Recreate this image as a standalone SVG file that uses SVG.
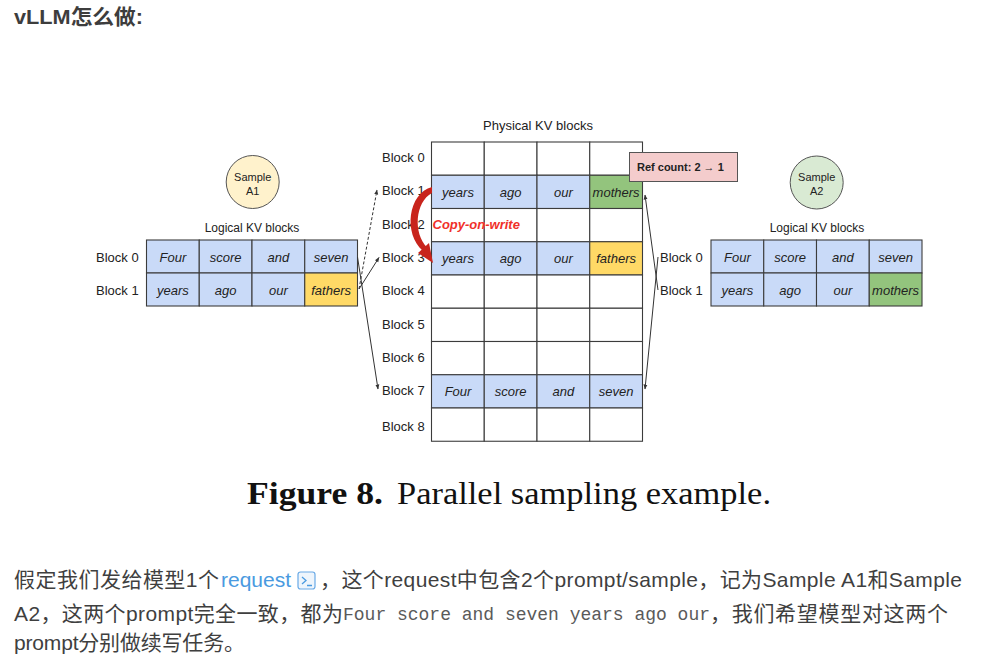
<svg xmlns="http://www.w3.org/2000/svg" width="996" height="666" viewBox="0 0 996 666">
<style>
.lbl{font-family:"Liberation Sans",Arial,sans-serif;font-size:13px;fill:#222}
.ttl{font-family:"Liberation Sans",Arial,sans-serif;font-size:12px;fill:#222;text-anchor:middle}
.cell{font-family:"Liberation Sans",Arial,sans-serif;font-size:13px;font-style:italic;fill:#222;text-anchor:middle}
.grid rect{stroke:#3c3c3c;stroke-width:1.1}
.b{fill:#c9daf8}.y{fill:#ffd966}.g{fill:#93c47d}.w{fill:#ffffff}
.conn{stroke:#333;stroke-width:1;fill:none;marker-end:url(#ah)}
.para{font-family:"Liberation Sans","Noto Sans CJK SC",sans-serif;font-size:21px;fill:#3f3f3f}
.mono{font-family:"Liberation Mono",monospace;font-size:18px;fill:#5a5a5a}
</style>
<defs>
<marker id="ah" viewBox="0 0 10 10" refX="9" refY="5" markerWidth="5" markerHeight="5" orient="auto-start-reverse" markerUnits="strokeWidth">
<path d="M0,1 L10,5 L0,9 z" fill="#333"/>
</marker>
</defs>
<rect width="996" height="666" fill="#ffffff"/>
<text x="14" y="24" font-family="Liberation Sans,'Noto Sans CJK SC',sans-serif" font-size="21" font-weight="bold" fill="#3d3d3d" textLength="129" lengthAdjust="spacingAndGlyphs">vLLM怎么做:</text>

<!-- Physical KV blocks -->
<g id="physical">
<text x="538" y="130" class="ttl" style="font-size:13px">Physical KV blocks</text>
<g class="grid">
<rect x="431.5" y="142" width="52.75" height="33.25" class="w"/><rect x="484.25" y="142" width="52.75" height="33.25" class="w"/><rect x="537" y="142" width="52.75" height="33.25" class="w"/><rect x="589.75" y="142" width="52.75" height="33.25" class="w"/>
<rect x="431.5" y="175.25" width="52.75" height="33.25" class="b"/><rect x="484.25" y="175.25" width="52.75" height="33.25" class="b"/><rect x="537" y="175.25" width="52.75" height="33.25" class="b"/><rect x="589.75" y="175.25" width="52.75" height="33.25" class="g"/>
<rect x="431.5" y="208.5" width="52.75" height="33.25" class="w"/><rect x="484.25" y="208.5" width="52.75" height="33.25" class="w"/><rect x="537" y="208.5" width="52.75" height="33.25" class="w"/><rect x="589.75" y="208.5" width="52.75" height="33.25" class="w"/>
<rect x="431.5" y="241.75" width="52.75" height="33.25" class="b"/><rect x="484.25" y="241.75" width="52.75" height="33.25" class="b"/><rect x="537" y="241.75" width="52.75" height="33.25" class="b"/><rect x="589.75" y="241.75" width="52.75" height="33.25" class="y"/>
<rect x="431.5" y="275" width="52.75" height="33.25" class="w"/><rect x="484.25" y="275" width="52.75" height="33.25" class="w"/><rect x="537" y="275" width="52.75" height="33.25" class="w"/><rect x="589.75" y="275" width="52.75" height="33.25" class="w"/>
<rect x="431.5" y="308.25" width="52.75" height="33.25" class="w"/><rect x="484.25" y="308.25" width="52.75" height="33.25" class="w"/><rect x="537" y="308.25" width="52.75" height="33.25" class="w"/><rect x="589.75" y="308.25" width="52.75" height="33.25" class="w"/>
<rect x="431.5" y="341.5" width="52.75" height="33.25" class="w"/><rect x="484.25" y="341.5" width="52.75" height="33.25" class="w"/><rect x="537" y="341.5" width="52.75" height="33.25" class="w"/><rect x="589.75" y="341.5" width="52.75" height="33.25" class="w"/>
<rect x="431.5" y="374.75" width="52.75" height="33.25" class="b"/><rect x="484.25" y="374.75" width="52.75" height="33.25" class="b"/><rect x="537" y="374.75" width="52.75" height="33.25" class="b"/><rect x="589.75" y="374.75" width="52.75" height="33.25" class="b"/>
<rect x="431.5" y="408" width="52.75" height="33.25" class="w"/><rect x="484.25" y="408" width="52.75" height="33.25" class="w"/><rect x="537" y="408" width="52.75" height="33.25" class="w"/><rect x="589.75" y="408" width="52.75" height="33.25" class="w"/>
</g>
<text class="lbl" x="382" y="162">Block 0</text>
<text class="lbl" x="382" y="195">Block 1</text>
<text class="lbl" x="382" y="229">Block 2</text>
<text class="lbl" x="382" y="262">Block 3</text>
<text class="lbl" x="382" y="295">Block 4</text>
<text class="lbl" x="382" y="329">Block 5</text>
<text class="lbl" x="382" y="362">Block 6</text>
<text class="lbl" x="382" y="395">Block 7</text>
<text class="lbl" x="382" y="431">Block 8</text>
<text class="cell" x="458" y="196.5">years</text><text class="cell" x="510.6" y="196.5">ago</text><text class="cell" x="563.4" y="196.5">our</text><text class="cell" x="616.1" y="196.5">mothers</text>
<text class="cell" x="458" y="263">years</text><text class="cell" x="510.6" y="263">ago</text><text class="cell" x="563.4" y="263">our</text><text class="cell" x="616.1" y="263">fathers</text>
<text class="cell" x="458" y="396">Four</text><text class="cell" x="510.6" y="396">score</text><text class="cell" x="563.4" y="396">and</text><text class="cell" x="616.1" y="396">seven</text>
</g>

<g id="refcount">
<rect x="629.5" y="152.5" width="108" height="29" fill="#f4cccc" stroke="#555" stroke-width="1"/>
<text x="637" y="170.5" font-family="Liberation Sans,Arial,sans-serif" font-size="11" font-weight="bold" fill="#222">Ref count: 2 → 1</text>
</g>

<g id="copy-on-write">
<path d="M432,187 C408,193 403,234 423,251 L427,247.5 C413,233 415,202 432,193 Z" fill="#c8241c"/>
<polygon points="418,253 429,243 433,263" fill="#c8241c"/>
<text x="432.5" y="228.5" font-family="Liberation Sans,Arial,sans-serif" font-size="13" font-weight="bold" font-style="italic" fill="#f0302a">Copy-on-write</text>
</g>

<!-- Sample A1 -->
<g id="sampleA1">
<circle cx="252.7" cy="182" r="26.5" fill="#fff2cc" stroke="#555" stroke-width="1"/>
<text x="252.7" y="181" class="ttl" style="font-size:11px">Sample</text>
<text x="252.7" y="194.5" class="ttl" style="font-size:11px">A1</text>
</g>
<g id="logicalA1">
<text x="252" y="231.5" class="ttl">Logical KV blocks</text>
<g class="grid">
<rect x="146.5" y="240" width="52.75" height="33" class="b"/><rect x="199.25" y="240" width="52.75" height="33" class="b"/><rect x="252" y="240" width="52.75" height="33" class="b"/><rect x="304.75" y="240" width="52.75" height="33" class="b"/>
<rect x="146.5" y="273" width="52.75" height="33" class="b"/><rect x="199.25" y="273" width="52.75" height="33" class="b"/><rect x="252" y="273" width="52.75" height="33" class="b"/><rect x="304.75" y="273" width="52.75" height="33" class="y"/>
</g>
<text class="lbl" x="96" y="262">Block 0</text>
<text class="lbl" x="96" y="295">Block 1</text>
<text class="cell" x="172.9" y="261.5">Four</text><text class="cell" x="225.6" y="261.5">score</text><text class="cell" x="278.4" y="261.5">and</text><text class="cell" x="331.1" y="261.5">seven</text>
<text class="cell" x="172.9" y="294.5">years</text><text class="cell" x="225.6" y="294.5">ago</text><text class="cell" x="278.4" y="294.5">our</text><text class="cell" x="331.1" y="294.5">fathers</text>
</g>

<!-- Sample A2 -->
<g id="sampleA2">
<circle cx="816.7" cy="182.5" r="26.5" fill="#d9ead3" stroke="#555" stroke-width="1"/>
<text x="816.7" y="181" class="ttl" style="font-size:11px">Sample</text>
<text x="816.7" y="194.5" class="ttl" style="font-size:11px">A2</text>
</g>
<g id="logicalA2">
<text x="817" y="231.5" class="ttl">Logical KV blocks</text>
<g class="grid">
<rect x="711" y="240" width="52.75" height="33" class="b"/><rect x="763.75" y="240" width="52.75" height="33" class="b"/><rect x="816.5" y="240" width="52.75" height="33" class="b"/><rect x="869.25" y="240" width="52.75" height="33" class="b"/>
<rect x="711" y="273" width="52.75" height="33" class="b"/><rect x="763.75" y="273" width="52.75" height="33" class="b"/><rect x="816.5" y="273" width="52.75" height="33" class="b"/><rect x="869.25" y="273" width="52.75" height="33" class="g"/>
</g>
<text class="lbl" x="660" y="262">Block 0</text>
<text class="lbl" x="660" y="295">Block 1</text>
<text class="cell" x="737.4" y="261.5">Four</text><text class="cell" x="790.1" y="261.5">score</text><text class="cell" x="842.9" y="261.5">and</text><text class="cell" x="895.6" y="261.5">seven</text>
<text class="cell" x="737.4" y="294.5">years</text><text class="cell" x="790.1" y="294.5">ago</text><text class="cell" x="842.9" y="294.5">our</text><text class="cell" x="895.6" y="294.5">mothers</text>
</g>

<g id="connectors">
<path class="conn" d="M359,289 L377,190" stroke-dasharray="3,2"/>
<path class="conn" d="M359,289 L379,257.5"/>
<path class="conn" d="M357.5,257 L378,389"/>
<path class="conn" d="M658,290 L645,195"/>
<path class="conn" d="M658,257 L645,389"/>
</g>

<g id="caption">
<text x="247" y="504" font-family="Liberation Serif,serif" font-size="32" font-weight="bold" fill="#111" textLength="136" lengthAdjust="spacingAndGlyphs">Figure 8.</text>
<text x="397" y="504" font-family="Liberation Serif,serif" font-size="32" fill="#111" textLength="374" lengthAdjust="spacingAndGlyphs">Parallel sampling example.</text>
</g>

<g id="paragraph">
<text class="para" x="14" y="587" textLength="205">假定我们发给模型1个</text>
<text class="para" x="221" y="587" textLength="70" style="fill:#4a9ae0">request</text>
<rect x="298" y="572" width="17" height="17" rx="2.5" fill="#eef5fc" stroke="#6aaae6" stroke-width="1.2"/>
<path d="M302,577 L306,580.5 L302,584 M307,585.5 L312,585.5" stroke="#4a9ae0" stroke-width="1.3" fill="none"/>
<text class="para" x="320" y="587" textLength="642">，这个request中包含2个prompt/sample，记为Sample A1和Sample</text>
<text class="para" x="14" y="621" textLength="329">A2，这两个prompt完全一致，都为</text>
<text class="mono" x="343" y="620" textLength="367">Four score and seven years ago our</text>
<text class="para" x="710" y="621" textLength="238">，我们希望模型对这两个</text>
<text class="para" x="14" y="650" textLength="231">prompt分别做续写任务。</text>
</g>
</svg>
